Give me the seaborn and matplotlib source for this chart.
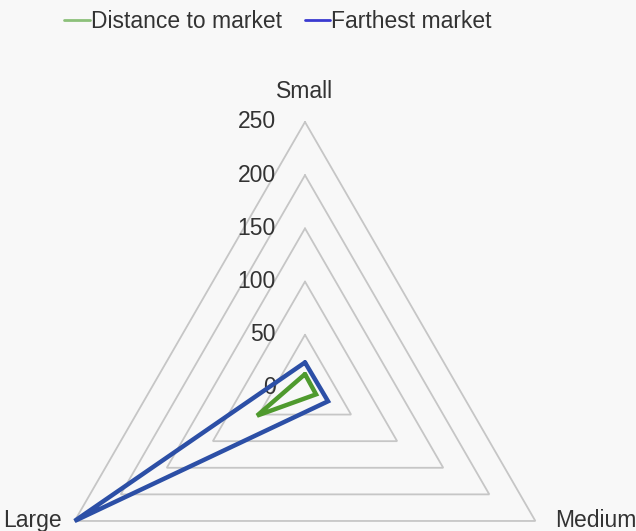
import numpy as np
import matplotlib
matplotlib.use("Agg")
import matplotlib.pyplot as plt
import seaborn as sns
from matplotlib.lines import Line2D

sns.set_theme(style="white")
plt.rcParams["font.family"] = ["Liberation Sans", "DejaVu Sans"]

categories = ["Small", "Medium", "Large"]
distance_to_market = [13, 12, 52]
farthest_market = [24, 25, 250]
ring_values = [0, 50, 100, 150, 200, 250]
ring_labels = ["0", "50", "100", "150", "200", "250"]

bg = "#f8f8f8"
fig = plt.figure(figsize=(6.36, 5.31), dpi=100, facecolor=bg)
ax = fig.add_axes([0.0613, -0.2316, 0.8365, 1.0019], projection="polar")
ax.set_theta_offset(np.pi / 2)
ax.set_theta_direction(-1)
ax.set_ylim(0, 250)
ax.patch.set_visible(False)
ax.grid(False)
ax.spines["polar"].set_visible(False)
ax.set_xticks([])
ax.set_yticks([])

angles = np.linspace(0, 2 * np.pi, len(categories), endpoint=False)
closed = np.append(angles, angles[0])

# triangular grid rings
for v in ring_values[1:]:
    ax.plot(closed, [v] * len(closed), color="#c6c6c6", lw=1.3, zorder=1,
            clip_on=False)

# data polygons
green = "#4f9a2e"
blue = "#2c4fa6"
d = np.append(distance_to_market, distance_to_market[0])
f = np.append(farthest_market, farthest_market[0])
sns.lineplot(x=closed, y=d, ax=ax, sort=False, color=green, lw=3.2,
             zorder=3, estimator=None)
sns.lineplot(x=closed, y=f, ax=ax, sort=False, color=blue, lw=3.2,
             zorder=4, estimator=None)
for ln in ax.lines:
    ln.set_clip_on(False)
    ln.set_solid_joinstyle("miter")

# ring value labels along the Small axis
for v, lab in zip(ring_values, ring_labels):
    ax.annotate(lab, xy=(0, v), xytext=(-21, 0), textcoords="offset points",
                ha="right", va="center", fontsize=16.5, color="#333333",
                annotation_clip=False)

# category labels
offsets = [((0, 14), "center", "bottom"),
           ((14, 0), "left", "center"),
           ((-9, 0), "right", "center")]
for a, name, (off, ha, va) in zip(angles, categories, offsets):
    ax.annotate(name, xy=(a, 250), xytext=off, textcoords="offset points",
                ha=ha, va=va, fontsize=16.5, color="#333333",
                annotation_clip=False)

handles = [Line2D([], [], color="#8cc07a", lw=2),
           Line2D([], [], color="#3a3ad0", lw=2)]
fig.legend(handles, ["Distance to market", "Farthest market"],
           loc="center", bbox_to_anchor=(0.437, 0.96), ncol=2, frameon=False,
           fontsize=16.5, handlelength=1.1, handletextpad=0.05,
           columnspacing=1.0, labelcolor="#333333")

fig.savefig("out.png", dpi=100, facecolor=bg)
